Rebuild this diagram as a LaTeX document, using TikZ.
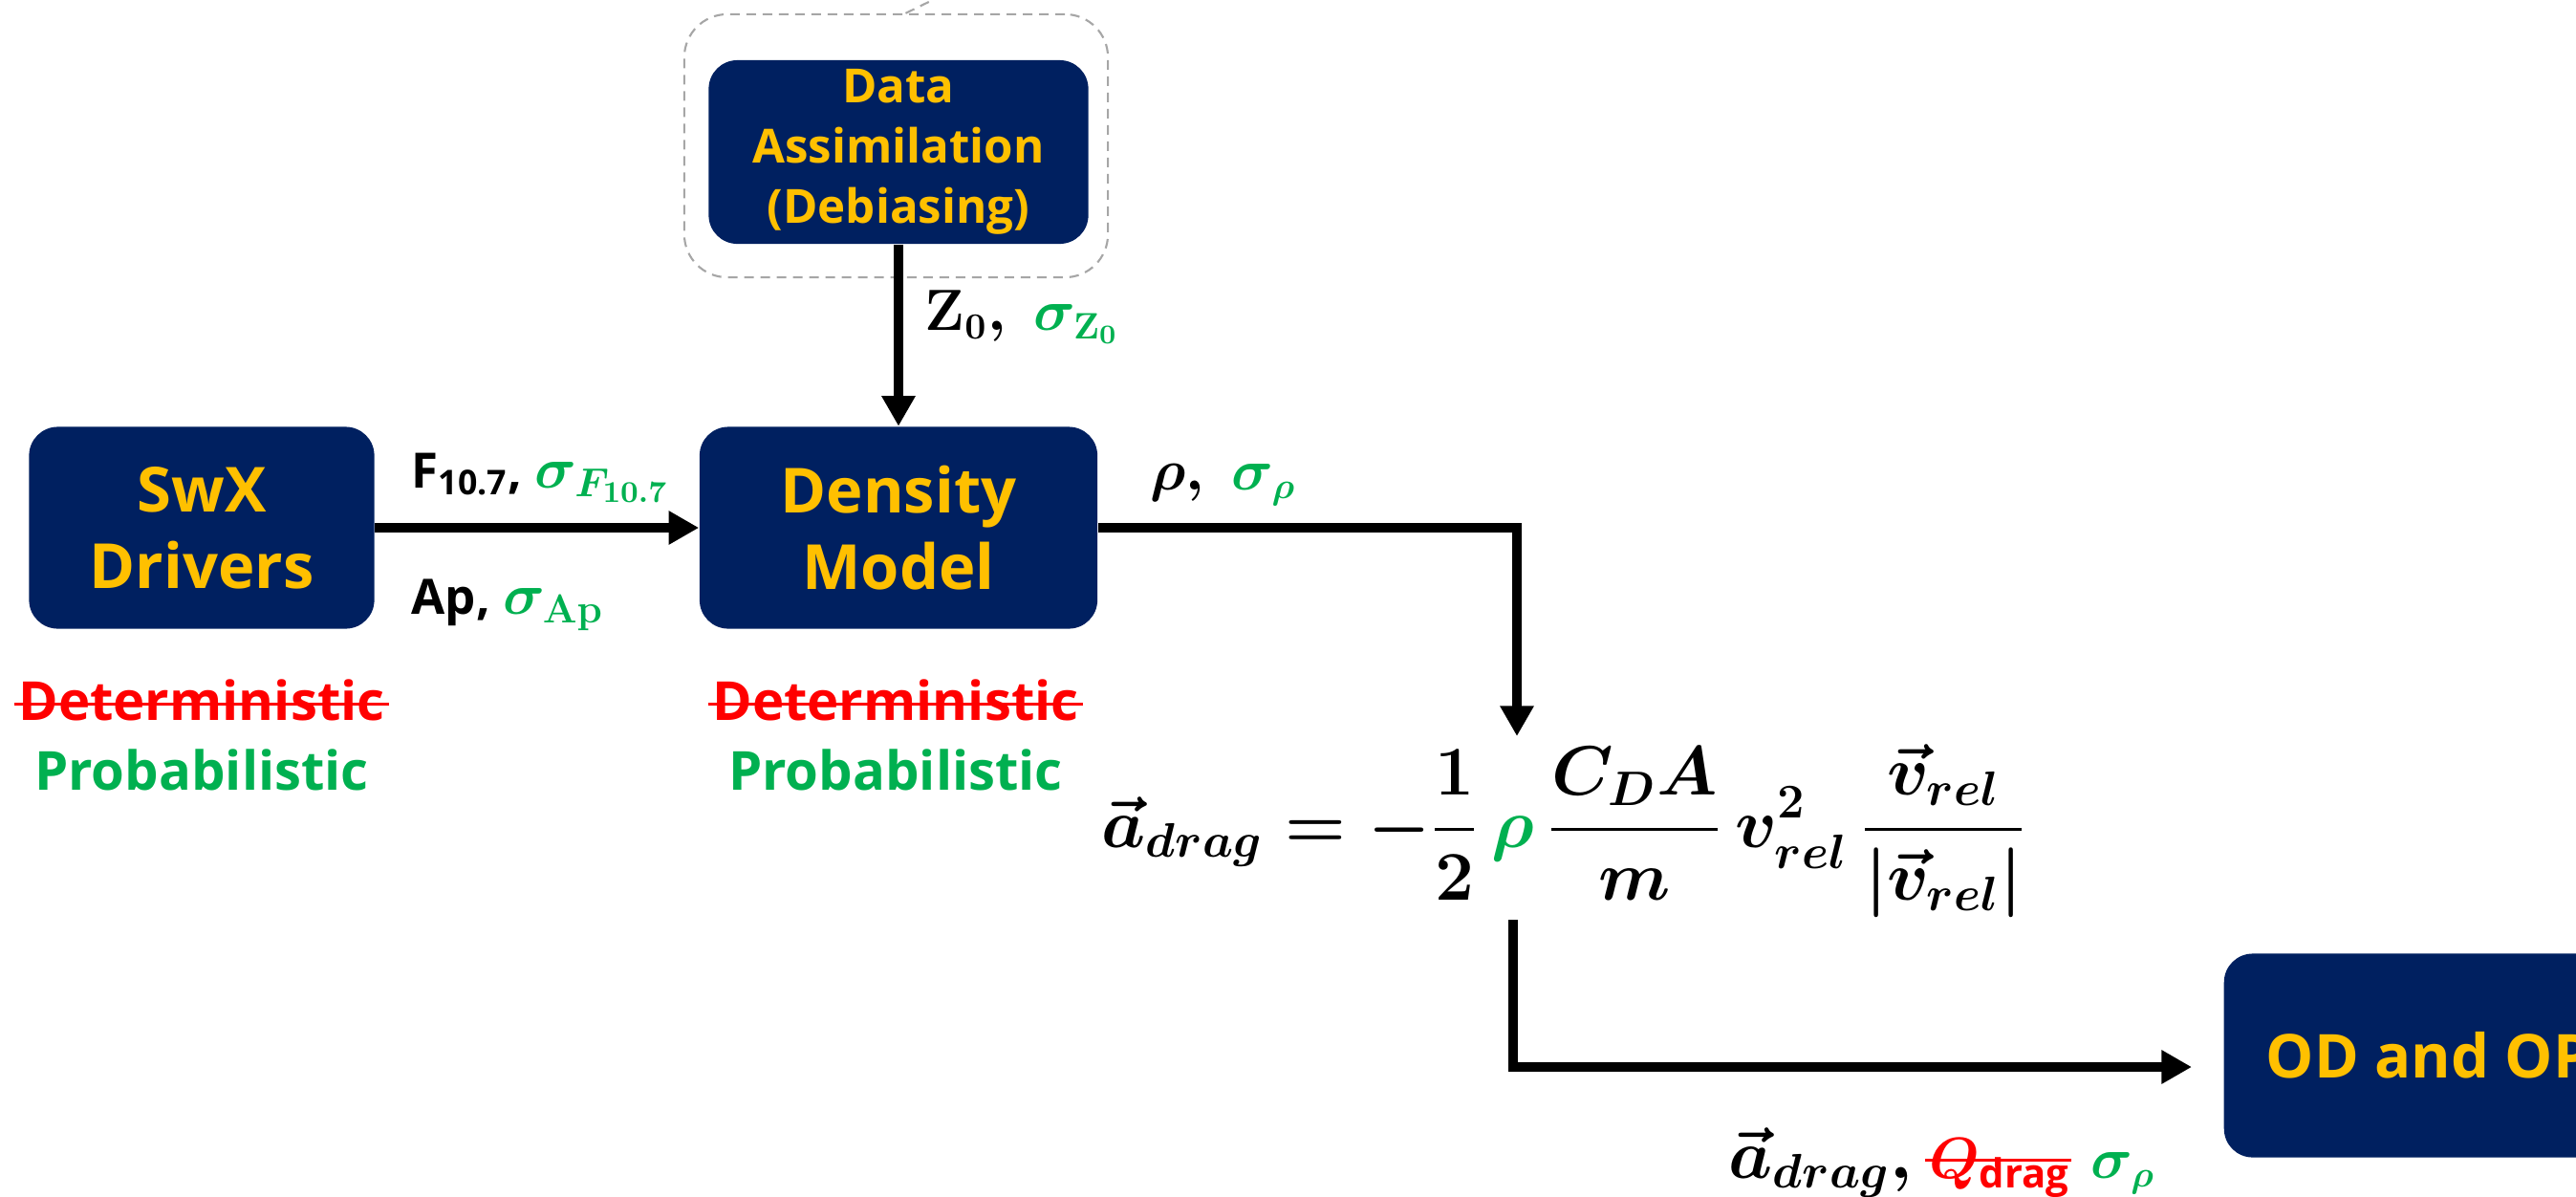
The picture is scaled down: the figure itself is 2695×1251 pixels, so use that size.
\documentclass[tikz,border=0pt]{standalone}
\usepackage{amsmath,amssymb}
\usepackage{fontspec}
\setsansfont{Open Sans}
\usepackage{tikz}
\usetikzlibrary{arrows.meta,calc}

\definecolor{boxnavy}{HTML}{002060}
\definecolor{boxgold}{HTML}{FFC000}
\definecolor{probgreen}{HTML}{00B050}
\definecolor{detred}{HTML}{FF0000}
\definecolor{frameGrey}{HTML}{A6A6A6}

\newcommand{\sigmath}{\fontsize{18.5}{20}\selectfont\color{probgreen}}

\tikzset{
  block/.style={fill=boxnavy, rounded corners=0.3cm, text=boxgold, align=center, inner sep=0pt,
    font=\sffamily\bfseries\fontsize{18.5}{22.8}\selectfont},
  flow/.style={line width=2.85pt, -{Triangle[length=9pt,width=9.5pt]}},
  lbl/.style={inner sep=0pt, anchor=base west, font=\sffamily\bfseries\boldmath\fontsize{14.5}{17}\selectfont},
  tag/.style={inner sep=0pt, anchor=base, font=\sffamily\bfseries\fontsize{16}{19}\selectfont},
  strikeline/.style={detred, line width=0.85pt},
  dashframe/.style={draw=frameGrey, line width=0.6pt, dash pattern=on 0.1cm off 0.07cm, rounded corners=0.45cm}
}

\begin{document}
\begin{tikzpicture}[x=0.01cm,y=-0.01cm]
  \useasboundingbox (0,0) rectangle (2695,1251);
  \clip (0,0) rectangle (2695,1251);

  % blocks
  \node[dashframe, minimum width=4.43cm, minimum height=2.75cm] (daFrame) at (937.5,152.5) {};
  \coordinate (calloutEnd) at (992,-8);
  \draw[dashframe] ($(daFrame.north)+(10,0)$) -- (calloutEnd);
  \node[block, minimum width=3.97cm, minimum height=1.92cm, font=\sffamily\bfseries\fontsize{14}{17.9}\selectfont] (da) at (940,159) {Data\\Assimilation\\(Debiasing)};
  \node[block, minimum width=3.61cm, minimum height=2.11cm] (swx) at (211,552) {SwX\\Drivers};
  \node[block, minimum width=4.16cm, minimum height=2.11cm] (dens) at (940,552) {Density\\Model};
  \node[block, anchor=west, minimum height=2.13cm, inner xsep=0.44cm, font=\sffamily\bfseries\fontsize{18}{22}\selectfont] (od) at (2326,1104) {OD and OP};

  % connectors
  \coordinate (rhoIn) at (1587,770);
  \coordinate (dragOut) at (1583,962);
  \draw[flow] (swx.east) -- (dens.west);
  \draw[flow] (da.south) -- (dens.north);
  \draw[flow] (dens.east) -| (rhoIn);
  \draw[flow, shorten >=0.33cm] (dragOut) |- ($(od.west)+(0,12)$);

  % labels
  \node[lbl] (f107) at (430,510) {$\text{F}_{\text{10.7}}$, {\sigmath$\sigma_{F_{10.7}}$}};
  \node[lbl] (ap) at (430,642) {Ap, {\sigmath$\sigma_{\mathbf{Ap}}$}};
  \node[lbl, font=\boldmath\fontsize{16}{18}\selectfont] (z0) at (967,345) {$\mathbf{Z}_0,\ {\color{probgreen}\sigma_{\mathbf{Z}_0}}$};
  \node[lbl, font=\boldmath\fontsize{16}{18}\selectfont] (rho) at (1203,512) {$\rho,\ {\color{probgreen}\sigma_\rho}$};

  \node[tag, text=detred] (detL) at (211,753) {Deterministic};
  \node[tag, text=probgreen] (probL) at (211,826) {Probabilistic};
  \node[tag, text=detred] (detR) at (937,753) {Deterministic};
  \node[tag, text=probgreen] (probR) at (937,826) {Probabilistic};
  \foreach \n in {detL,detR}
    \draw[strikeline] ($(\n.base west)+(-4,-17)$) -- ($(\n.base east)+(4,-17)$);

  % drag equation
  \node[inner sep=0pt, anchor=base west, font=\boldmath\fontsize{21.5}{26}\selectfont] (eq) at (1152,886)
    {$\displaystyle \vec{a}_{drag} = -\frac{1}{2}\,{\color{probgreen}\rho}\,\frac{C_DA}{m}\,v_{rel}^2\,\frac{\vec{v}_{rel}}{|\vec{v}_{rel}|}$};

  % output label
  \node[lbl, font=\boldmath\fontsize{20}{24}\selectfont] (adrag) at (1808,1232) {$\vec{a}_{drag},$};
  \node[lbl, text=detred, font=\sffamily\bfseries\boldmath\fontsize{17}{20}\selectfont] (qdrag) at ($(adrag.base east)+(16,0)$) {$Q_{\text{drag}}$};
  \node[lbl, text=probgreen, font=\boldmath\fontsize{16}{19}\selectfont] (sigrho) at ($(qdrag.base east)+(20,0)$) {$\sigma_\rho$};
  \draw[strikeline] ($(qdrag.base west)+(-3,-19)$) -- ($(qdrag.base east)+(0,-19)$);
\end{tikzpicture}
\end{document}
